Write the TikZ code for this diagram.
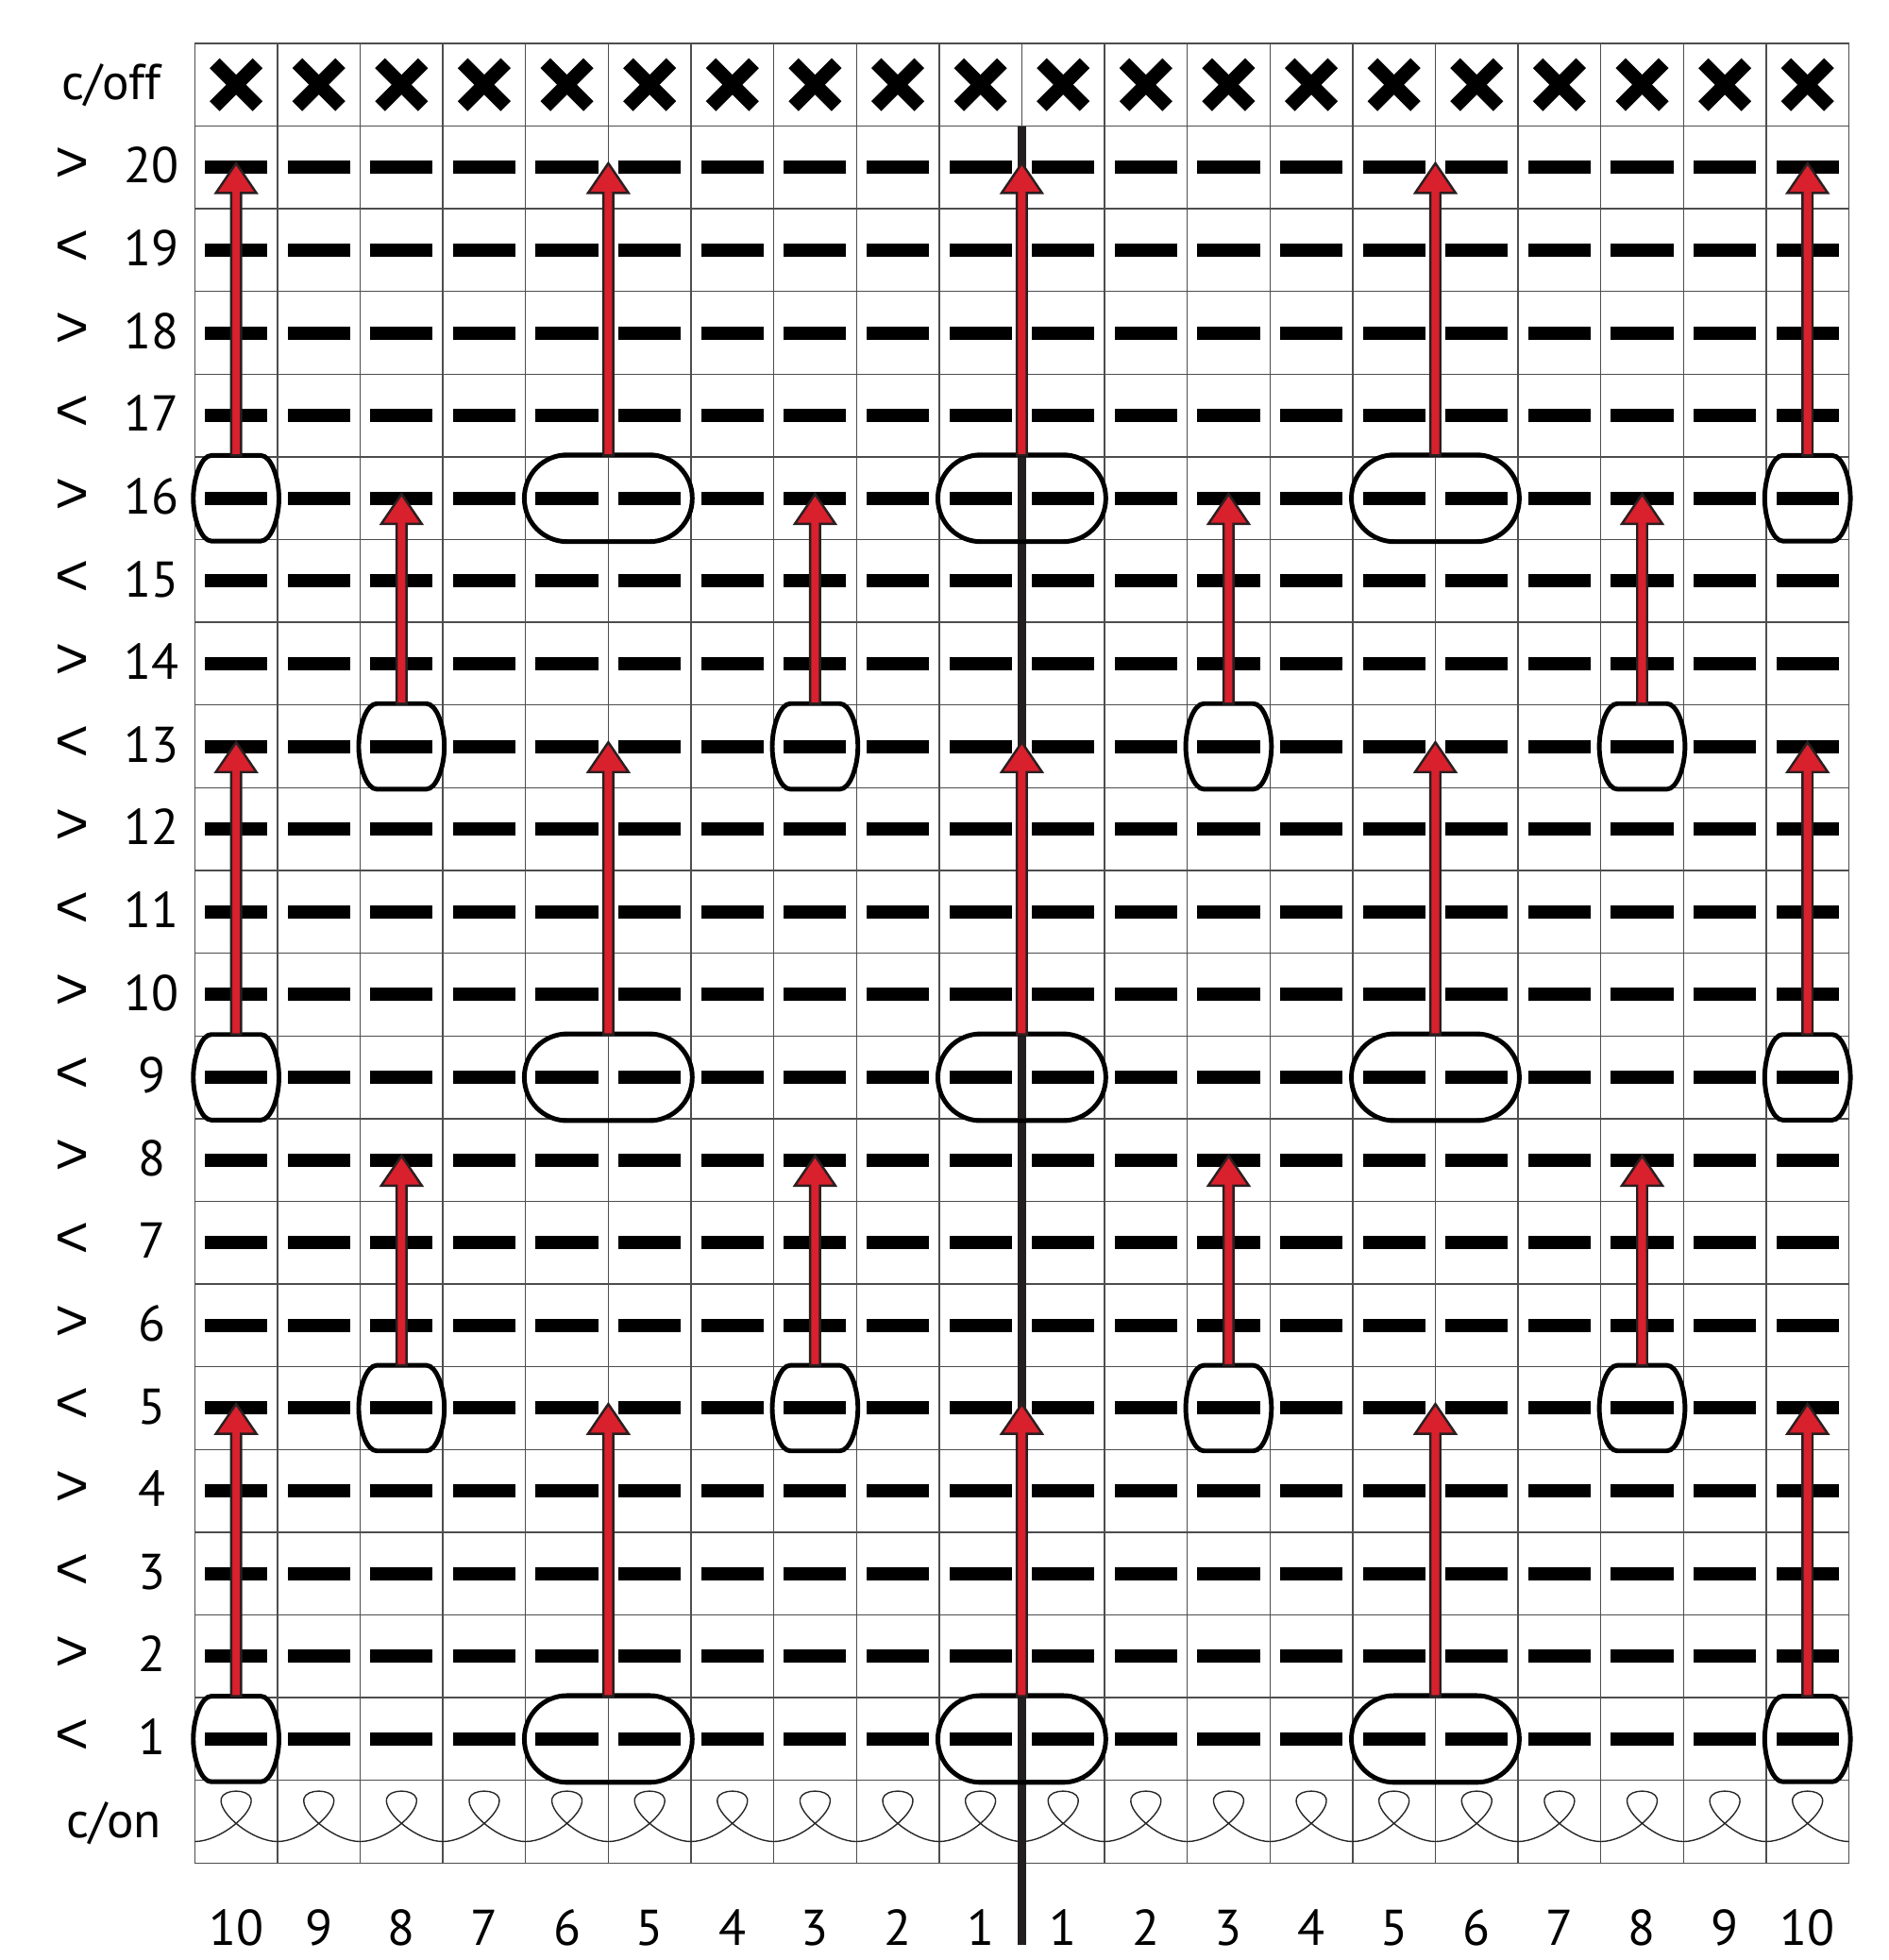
\documentclass[tikz,border=0pt]{standalone}
\usepackage{fontspec}
\setmainfont{PT Sans}
\newfontfamily\chevfont{Liberation Sans}
\definecolor{gridc}{HTML}{4D4D4D}
\definecolor{arrred}{HTML}{D9202D}
\definecolor{arrdark}{HTML}{2B1F20}
\definecolor{thickc}{HTML}{231F20}
\newcommand{\sglOval}[2]{%
  \begin{scope}[shift={(#1,#2)}]
    \draw[ovalst] (-0.3,0.517) -- (0.3,0.517)
      .. controls (0.42,0.517) and (0.518,0.25) .. (0.518,0)
      .. controls (0.518,-0.25) and (0.42,-0.517) .. (0.3,-0.517)
      -- (-0.3,-0.517)
      .. controls (-0.42,-0.517) and (-0.518,-0.25) .. (-0.518,0)
      .. controls (-0.518,0.25) and (-0.42,0.517) .. cycle;
  \end{scope}}
\newcommand{\dblOval}[2]{%
  \draw[ovalst, rounded corners=0.52cm] ({#1-1.015},{#2-0.525}) rectangle ({#1+1.015},{#2+0.525});}
\newcommand{\upArw}[3]{%
  \filldraw[arrst] ({#1-0.06},{#2}) -- ({#1-0.06},{#3-0.36}) -- ({#1-0.245},{#3-0.36}) -- ({#1},{#3})
    -- ({#1+0.245},{#3-0.36}) -- ({#1+0.06},{#3-0.36}) -- ({#1+0.06},{#2}) -- cycle;}
\begin{document}
\begin{tikzpicture}[
  gridst/.style={draw=gridc, line width=0.45pt},
  dashbar/.style={fill=black},
  xmark/.style={line width=0.17cm, line cap=butt, black},
  ovalst/.style={draw=black, line width=1.6pt},
  arrst/.style={fill=arrred, draw=arrdark, line width=0.8pt, line join=miter},
  loopst/.style={draw=black!85, line width=0.45pt},
  lbl/.style={inner sep=0pt, font=\fontsize{17.3}{20}\selectfont},
  chev/.style={inner sep=0pt, font=\chevfont\fontsize{20}{22}\selectfont}
]
\useasboundingbox (-2.355,-1.172) rectangle (20.476,22.524);
% grid
\foreach \y in {0,...,22} \draw[gridst] (0,\y) -- (20,\y);
\foreach \x in {0,...,20} \draw[gridst] (\x,0) -- (\x,22);
% dashes
\foreach \r in {1,...,20} {
  \foreach \c in {1,...,20} {
    \fill[dashbar] ({\c-0.5-0.3775},{\r+0.5-0.08}) rectangle ++(0.755,0.16);
  }
}
% X marks
\foreach \c in {1,...,20} {
  \draw[xmark] ({\c-0.5-0.26},{21.5-0.26}) -- ++(0.52,0.52);
  \draw[xmark] ({\c-0.5-0.26},{21.5+0.26}) -- ++(0.52,-0.52);
}
% cast-on loops
\foreach \c in {0,...,19} {
  \draw[loopst] (\c,0.26) .. controls ({\c+0.3},0.26) and ({\c+0.72},0.6) .. ({\c+0.68},0.78)
    .. controls ({\c+0.65},0.9) and ({\c+0.35},0.9) .. ({\c+0.32},0.78)
    .. controls ({\c+0.28},0.6) and ({\c+0.7},0.26) .. ({\c+1},0.26);
}
% centre line
\coordinate (cbot) at (10,-0.99);
\coordinate (ctop) at (10,21);
\draw[thickc, line width=2.9pt] (cbot) -- (ctop);
% ovals and arrows, group A
\foreach \r/\t in {1/5, 9/13, 16/20} {
  \sglOval{0.5}{\r+0.5}
  \sglOval{19.5}{\r+0.5}
  \dblOval{5}{\r+0.5}
  \dblOval{10}{\r+0.5}
  \dblOval{15}{\r+0.5}
  \foreach \x in {0.5,5,10,15,19.5} {
    \upArw{\x}{\r+1.017}{\t+0.55}
  }
}
% group B
\foreach \r/\t in {5/8, 13/16} {
  \foreach \x in {2.5,7.5,12.5,17.5} {
    \sglOval{\x}{\r+0.5}
    \upArw{\x}{\r+1.017}{\t+0.55}
  }
}
% row labels
\foreach \r in {1,...,20} {
  \pgfmathtruncatemacro{\odd}{mod(\r,2)}
  \ifnum\odd=1
    \node[chev] (ch\r) at (-1.48,{\r+0.53}) {<};
  \else
    \node[chev] (ch\r) at (-1.48,{\r+0.53}) {>};
  \fi
  \node[lbl, anchor=base] (rn\r) at (-0.52,{\r+0.5-0.19}) {\r};
}
\node[lbl, anchor=base] (coff) at (-1.01,{21.5-0.175}) {c/off};
\node[lbl, anchor=base] (con) at (-0.98,{0.5-0.19}) {c/on};
% bottom numbers
\foreach \n [count=\i] in {10,9,8,7,6,5,4,3,2,1,1,2,3,4,5,6,7,8,9,10} {
  \node[lbl, anchor=base] (bn\i) at ({\i-0.5},-0.99) {\n};
}
\end{tikzpicture}
\end{document}
